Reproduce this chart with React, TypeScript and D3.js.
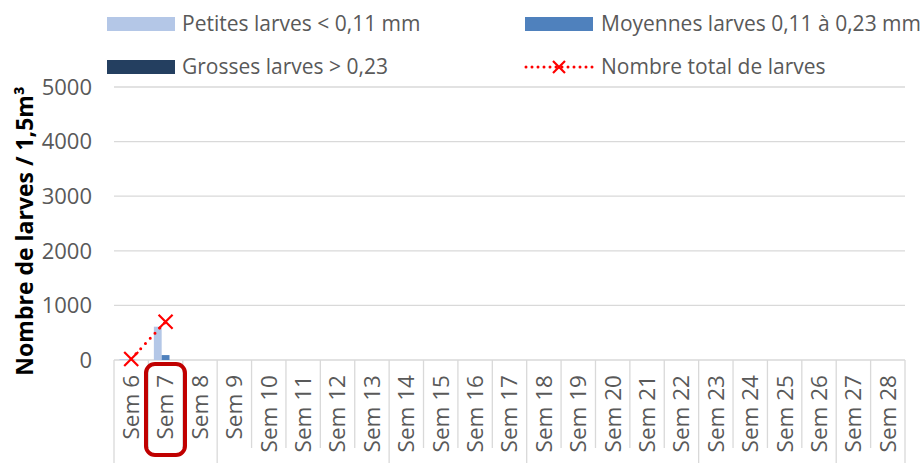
import * as d3 from 'd3';

const weeks = [
  'Sem 6', 'Sem 7', 'Sem 8', 'Sem 9', 'Sem 10', 'Sem 11', 'Sem 12', 'Sem 13',
  'Sem 14', 'Sem 15', 'Sem 16', 'Sem 17', 'Sem 18', 'Sem 19', 'Sem 20', 'Sem 21',
  'Sem 22', 'Sem 23', 'Sem 24', 'Sem 25', 'Sem 26', 'Sem 27', 'Sem 28',
];
// values only for the weeks sampled so far
const petites: (number | null)[] = [15, 610];
const moyennes: (number | null)[] = [5, 90];
const grosses: (number | null)[] = [0, 0];
const totals: (number | null)[] = [20, 700];
// last week of each (month) group on the multi-level axis
const groupEnds = ['Sem 8', 'Sem 13', 'Sem 17', 'Sem 22', 'Sem 26', 'Sem 28'];
const highlighted = 'Sem 7';
const yTicks = [0, 1000, 2000, 3000, 4000, 5000];

const series = [
  { name: 'Petites larves < 0,11 mm', values: petites, color: '#B4C7E7' },
  { name: 'Moyennes larves 0,11 à 0,23 mm', values: moyennes, color: '#4F81BD' },
  { name: 'Grosses larves > 0,23', values: grosses, color: '#243F60' },
];

const W = 923;
const H = 463;
const FONT = '"Open Sans", "Liberation Sans", sans-serif';
const GREY = '#595959';

export default function App() {
  const x = d3.scaleBand<string>().domain(weeks).range([114, 905]);
  const y = d3.scaleLinear().domain([0, 5000]).range([360, 87]);
  const inner = d3.scaleBand<number>()
    .domain(series.map((_, i) => i))
    .range([0, x.bandwidth()])
    .paddingOuter(0.7);

  const pts = totals
    .map((v, i) => (v == null ? null : ([x(weeks[i])! + x.bandwidth() / 2, y(v)] as [number, number])))
    .filter((p): p is [number, number] => p !== null);
  const line = d3.line<[number, number]>().x(d => d[0]).y(d => d[1]);

  const cross = (cx: number, cy: number, s: number, key: string | number) => (
    <path
      key={key}
      d={`M${cx - s},${cy - s}L${cx + s},${cy + s}M${cx - s},${cy + s}L${cx + s},${cy - s}`}
      stroke="#FF0000"
      strokeWidth={2.2}
      fill="none"
    />
  );

  const boundaries = [weeks[0], ...weeks].map((w, i) => (i === 0 ? x(w)! : x(w)! + x.bandwidth()));
  const groupIdx = new Set(groupEnds.map(g => weeks.indexOf(g) + 1));

  const hx = x(highlighted)!;

  return (
    <svg width={W} height={H} style={{ position: 'absolute', left: 0, top: 0, background: '#fff' }} fontFamily={FONT}>
      {/* legend */}
      <rect x={107} y={17} width={68} height={14} fill={series[0].color} />
      <text x={182} y={24} dy="0.35em" fontSize={21} fill={GREY}>{series[0].name}</text>
      <rect x={525} y={17} width={68} height={14} fill={series[1].color} />
      <text x={601} y={24} dy="0.35em" fontSize={21} fill={GREY}>{series[1].name}</text>
      <rect x={107} y={60} width={68} height={14} fill={series[2].color} />
      <text x={182} y={67} dy="0.35em" fontSize={21} fill={GREY}>{series[2].name}</text>
      <line x1={526} x2={593} y1={67} y2={67} stroke="#FF0000" strokeWidth={3} strokeDasharray="0 6" strokeLinecap="round" />
      {cross(559, 67, 6, 'leg')}
      <text x={601} y={67} dy="0.35em" fontSize={21} fill={GREY}>Nombre total de larves</text>

      {/* grid */}
      {yTicks.map(t => (
        <g key={t}>
          <line x1={114} x2={905} y1={y(t)} y2={y(t)} stroke="#D9D9D9" strokeWidth={1.3} />
          <text x={92} y={y(t)} dy="0.35em" textAnchor="end" fontSize={22} fill={GREY}>{t}</text>
        </g>
      ))}

      {/* category separators */}
      {boundaries.map((bx, i) => (
        <line
          key={i}
          x1={bx}
          x2={bx}
          y1={360}
          y2={i === 0 || groupIdx.has(i) ? H : 448}
          stroke="#D9D9D9"
          strokeWidth={1.3}
        />
      ))}

      {/* bars */}
      {series.map((s, si) =>
        s.values.map((v, i) =>
          v == null || v <= 0 ? null : (
            <rect
              key={`${si}-${i}`}
              x={x(weeks[i])! + inner(si)!}
              y={y(v)}
              width={inner.bandwidth()}
              height={y(0) - y(v)}
              fill={s.color}
            />
          )
        )
      )}

      {/* total line */}
      <path d={line(pts) || ''} fill="none" stroke="#FF0000" strokeWidth={3} strokeDasharray="0 7" strokeLinecap="round" />
      {pts.map((p, i) => cross(p[0], p[1], 7, i))}

      {/* category labels */}
      {weeks.map(w => {
        const cx = x(w)! + x.bandwidth() / 2;
        return (
          <text
            key={w}
            transform={`translate(${cx},375) rotate(-90)`}
            textAnchor="end"
            dy="0.35em"
            fontSize={22.5}
            fill={GREY}
          >
            {w}
          </text>
        );
      })}

      {/* highlight */}
      <rect x={hx - 2.4} y={364} width={39} height={91} rx={9} fill="none" stroke="#C00000" strokeWidth={4} />

      {/* y title */}
      <text
        transform="translate(25,231) rotate(-90)"
        textAnchor="middle"
        dy="0.35em"
        fontSize={23}
        fontWeight="bold"
        fill="#000"
      >
        Nombre de larves / 1,5m³
      </text>
    </svg>
  );
}
